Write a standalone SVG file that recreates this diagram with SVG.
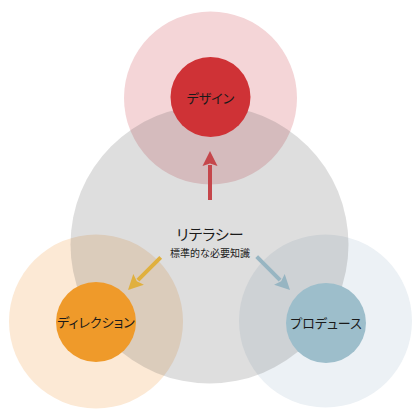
<svg xmlns="http://www.w3.org/2000/svg" width="420" height="420" viewBox="0 0 420 420">
<defs>
<style>
text{font-family:"Noto Sans CJK JP","Noto Sans",sans-serif;fill:#1a1a1a;text-anchor:middle;dominant-baseline:central;font-feature-settings:"palt"}
.lbl{font-size:13px}
.conn{stroke-width:4;fill:none}
</style>
<marker id="hr" viewBox="0 -8 16 16" refX="1" refY="0" markerWidth="16" markerHeight="16" markerUnits="userSpaceOnUse" orient="auto"><path d="M0,-7.5 L15,0 L0,7.5 L2.5,0 Z" fill="#c5464b"/></marker>
<marker id="ho" viewBox="0 -8 16 16" refX="1" refY="0" markerWidth="16" markerHeight="16" markerUnits="userSpaceOnUse" orient="auto"><path d="M0,-7.5 L15,0 L0,7.5 L2.5,0 Z" fill="#e0b03e"/></marker>
<marker id="hb" viewBox="0 -8 16 16" refX="1" refY="0" markerWidth="16" markerHeight="16" markerUnits="userSpaceOnUse" orient="auto"><path d="M0,-7.5 L15,0 L0,7.5 L2.5,0 Z" fill="#97b5c2"/></marker>
</defs>
<rect width="420" height="420" fill="#ffffff"/>
<g id="halos">
<circle cx="210.5" cy="98" r="86.5" fill="#f4d5d7"/>
<circle cx="96" cy="321.5" r="87" fill="#fce9d5"/>
<circle cx="325.5" cy="321" r="86.5" fill="#ecf1f5"/>
</g>
<g id="literacy">
<circle cx="209.5" cy="244.5" r="139" fill="#484848" fill-opacity="0.18"/>
<text x="210" y="233" style="font-size:15px">リテラシー</text>
<text x="210" y="252" style="font-size:10px">標準的な必要知識</text>
</g>
<g id="design">
<circle cx="210.5" cy="97" r="40" fill="#cf3236"/>
<text class="lbl" x="210.5" y="97.5">デザイン</text>
</g>
<g id="direction">
<circle cx="96" cy="322" r="40" fill="#ef9a2a"/>
<text class="lbl" x="96" y="321.5">ディレクション</text>
</g>
<g id="produce">
<circle cx="326" cy="323" r="40" fill="#9dbecb"/>
<text class="lbl" x="326" y="322.5">プロデュース</text>
</g>
<g id="connectors">
<line class="conn" x1="210" y1="200" x2="210" y2="165" stroke="#c5464b" marker-end="url(#hr)"/>
<line class="conn" x1="160.7" y1="257.3" x2="137.9" y2="280.1" stroke="#e0b03e" marker-end="url(#ho)"/>
<line class="conn" x1="256.7" y1="256.7" x2="280.1" y2="280.1" stroke="#97b5c2" marker-end="url(#hb)"/>
</g>
</svg>
